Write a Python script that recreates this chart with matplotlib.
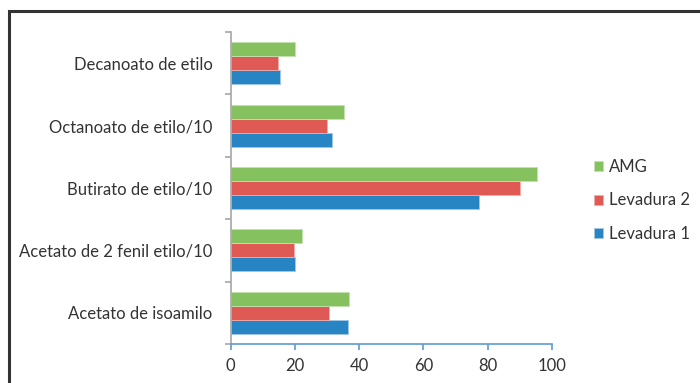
import matplotlib.pyplot as plt
import numpy as np
from matplotlib.patches import Rectangle

# Data
categories = ["Acetato de isoamilo", "Acetato de 2 fenil etilo/10", "Butirato de etilo/10",
              "Octanoato de etilo/10", "Decanoato de etilo"]
levadura1 = [36.6, 20.1, 77.4, 31.4, 15.3]
levadura2 = [30.6, 19.6, 90.0, 29.9, 14.6]
amg = [36.9, 22.1, 95.3, 35.4, 20.0]
series_names = ["Levadura 1", "Levadura 2", "AMG"]
series_colours = ["#2885C3", "#E05A55", "#86C160"]
edge_colours = ["#9FC8E6", "#F2AAA8", "#C4E2B0"]
xticks = [0, 20, 40, 60, 80, 100]

plt.rcParams['font.family'] = ['Lato', 'DejaVu Sans']
text_colour = "#333333"

fig = plt.figure(figsize=(7.0, 3.83), dpi=100)
ax = fig.add_axes([230.7 / 700, 1 - 344 / 383, (552 - 230.7) / 700, (344 - 32) / 383])

y = np.arange(len(categories))
bar_h = 0.225
for ind, vals in enumerate([levadura1, levadura2, amg]):
    ax.barh(y + (ind - 1) * bar_h, vals, height=bar_h, color=series_colours[ind],
            edgecolor=edge_colours[ind], linewidth=0.6, label=series_names[ind])

ax.set_xlim(0, 100)
ax.set_ylim(-0.5, len(categories) - 0.5)
ax.set_xticks(xticks)
ax.set_xticklabels([str(v) for v in xticks])
ax.set_yticks(y)
ax.set_yticklabels(categories)
ax.set_yticks(np.arange(len(categories) + 1) - 0.5, minor=True)

for s in ["top", "right"]:
    ax.spines[s].set_visible(False)
ax.spines["left"].set_color("#A6A6A6")
ax.spines["left"].set_linewidth(1.2)
ax.spines["bottom"].set_color("#5B9BD5")
ax.spines["bottom"].set_linewidth(1.2)

ax.tick_params(axis="y", which="major", length=0, pad=13, labelsize=12, labelcolor=text_colour)
ax.tick_params(axis="y", which="minor", length=4, width=1.2, color="#A6A6A6", direction="out")
ax.tick_params(axis="x", length=4, width=1.2, color="#5B9BD5", direction="out", pad=6,
               labelsize=12, labelcolor=text_colour)

handles, labels = ax.get_legend_handles_labels()
ax.legend(handles[::-1], labels[::-1], loc="center left", bbox_to_anchor=(1.085, 0.46),
          frameon=False, fontsize=12, handlelength=0.55, handleheight=0.55,
          handletextpad=0.35, labelspacing=1.05, labelcolor=text_colour)

# Outer frame (cropped at the right and bottom in the reference)
fig.patches.append(Rectangle((9 / 700, -0.2), 1.2, 1 - 11 / 383 + 0.2, transform=fig.transFigure,
                             fill=False, edgecolor="#333333", linewidth=2.2, clip_on=False))

fig.savefig("out.png", dpi=100)
